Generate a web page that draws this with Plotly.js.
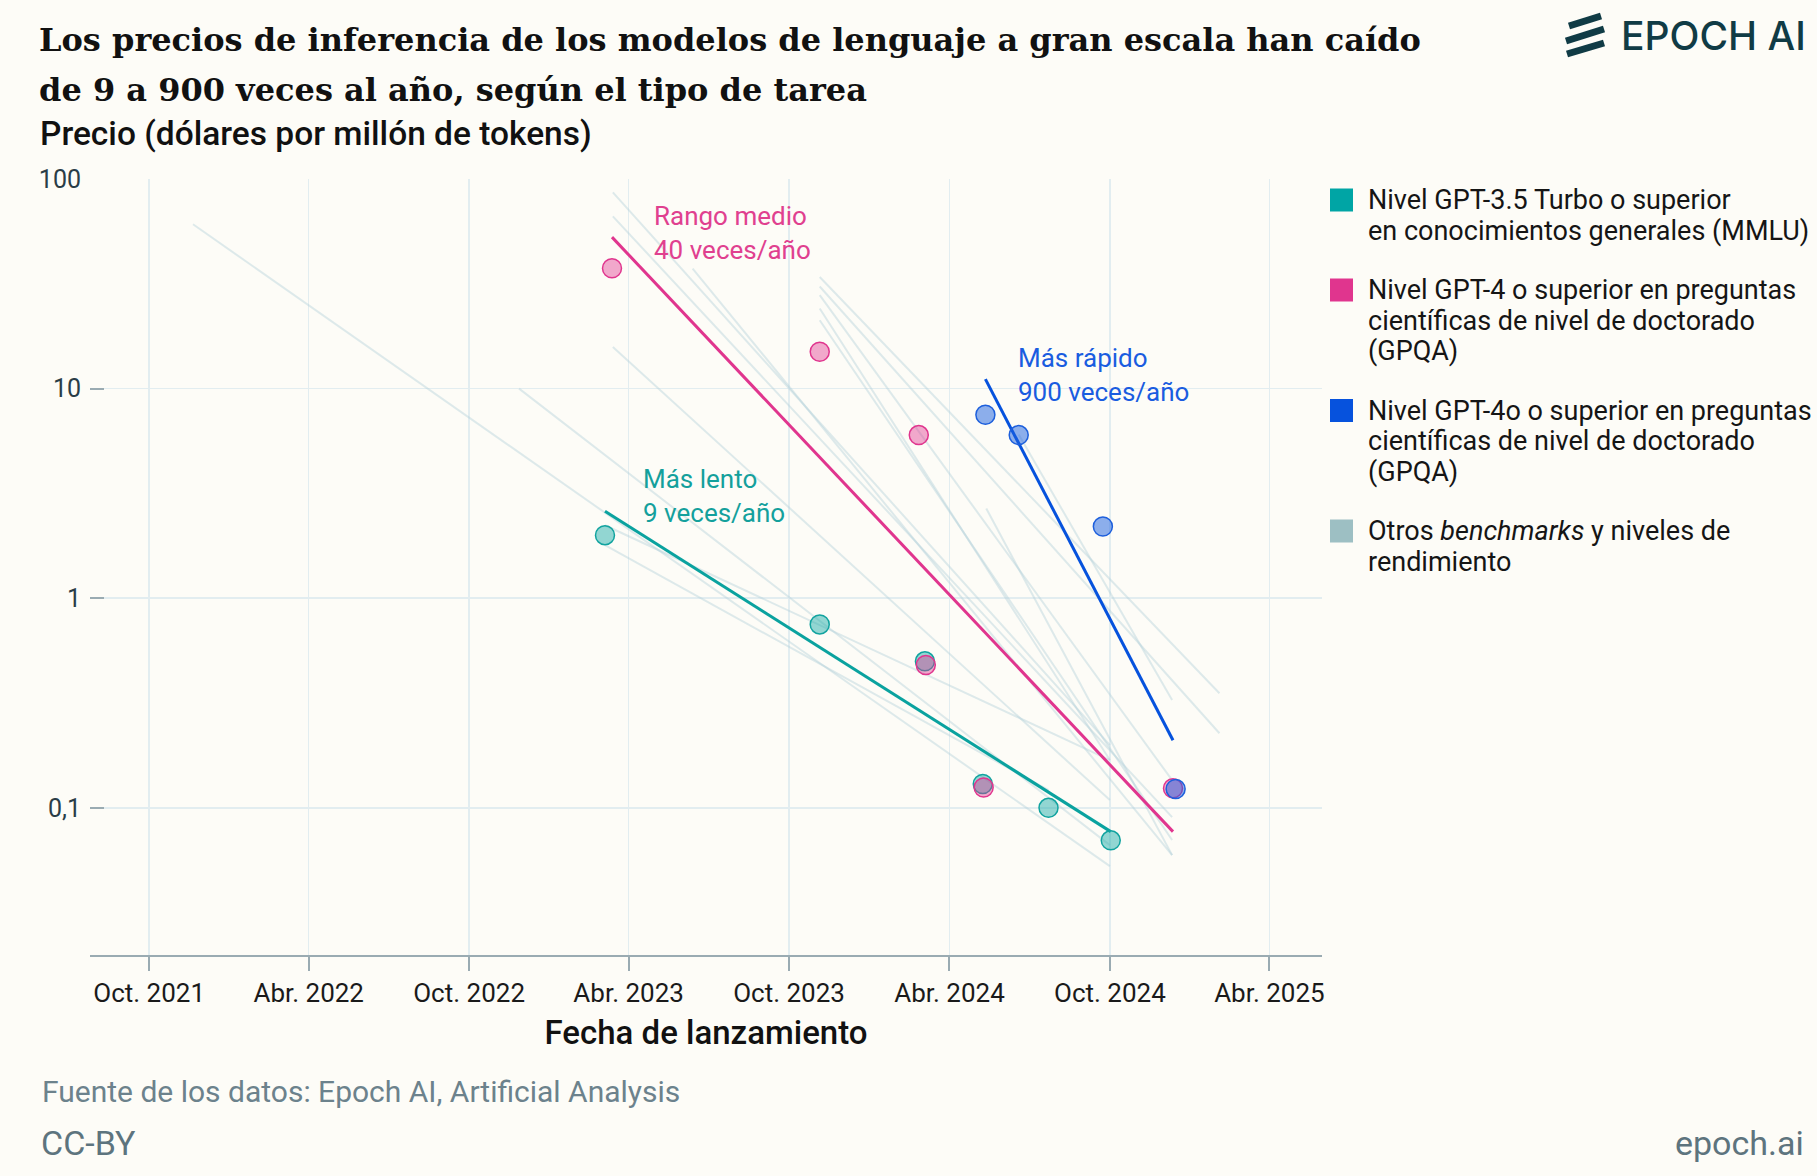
<!DOCTYPE html>
<html>
<head>
<meta charset="utf-8">
<script src="https://cdn.plot.ly/plotly-3.0.1.min.js"></script>
<style>
  html, body { margin: 0; padding: 0; background: #fdfcf7; }
  #chart { width: 1817px; height: 1176px; }
</style>
</head>
<body>
<div id="chart"></div>
<script>
// ---------- Data ----------
const mmluDates  = ['2023-03-05', '2023-11-05', '2024-03-04', '2024-05-09', '2024-07-23', '2024-10-02'];
const mmluPrices = [2.0, 0.75, 0.5, 0.13, 0.1, 0.07];

const gpt4Dates  = ['2023-03-13', '2023-11-05', '2024-02-26', '2024-03-05', '2024-05-10', '2024-12-12'];
const gpt4Prices = [37.5, 15, 6, 0.48, 0.125, 0.124];

const gpt4oDates  = ['2024-05-12', '2024-06-19', '2024-09-23', '2024-12-15'];
const gpt4oPrices = [7.5, 6, 2.2, 0.123];

const mmluTrendDates   = ['2023-03-05', '2024-10-02'];
const mmluTrendPrices  = [2.6, 0.077];
const gpt4TrendDates   = ['2023-03-13', '2024-12-12'];
const gpt4TrendPrices  = [52.8, 0.077];
const gpt4oTrendDates  = ['2024-05-12', '2024-12-12'];
const gpt4oTrendPrices = [11.1, 0.21];

// other benchmarks / thresholds (faint trend lines)
const otherStartDates  = ['2021-11-20','2022-11-27','2023-03-14','2023-03-14','2023-03-14','2023-06-13','2023-11-05','2023-11-05','2023-11-05','2023-11-05','2023-11-05','2024-05-13','2024-06-19','2023-03-05','2023-03-05'];
const otherStartPrices = [60.8, 10, 86.3, 66.3, 15.8, 37.4, 34.1, 30.7, 27.9, 24.1, 21.2, 2.68, 6.04, 2.23, 1.79];
const otherEndDates    = ['2024-10-01','2024-10-01','2024-10-01','2024-12-11','2024-10-01','2024-12-11','2025-02-03','2025-02-03','2024-12-11','2024-10-01','2024-12-11','2024-12-11','2024-12-11','2024-10-01','2024-07-23'];
const otherEndPrices   = [0.0527, 0.0664, 0.199, 0.0903, 0.109, 0.0595, 0.352, 0.227, 0.1355, 0.169, 0.0702, 0.0595, 0.327, 0.169, 0.1215];

const xTickVals = ['2021-10-01','2022-04-01','2022-10-01','2023-04-01','2023-10-01','2024-04-01','2024-10-01','2025-04-01'];
const xTickText = ['Oct. 2021','Abr. 2022','Oct. 2022','Abr. 2023','Oct. 2023','Abr. 2024','Oct. 2024','Abr. 2025'];
const yTickVals = [0.1, 1, 10, 100];
const yTickText = ['0,1', '1', '10', '100'];

const titleLines = ['Los precios de inferencia de los modelos de lenguaje a gran escala han caído',
                    'de 9 a 900 veces al año, según el tipo de tarea'];

const legendItems = [
  {color: '#00a5a5', lines: ['Nivel GPT-3.5 Turbo o superior', 'en conocimientos generales (MMLU)']},
  {color: '#e0358e', lines: ['Nivel GPT-4 o superior en preguntas', 'científicas de nivel de doctorado', '(GPQA)']},
  {color: '#0652dd', lines: ['Nivel GPT-4o o superior en preguntas', 'científicas de nivel de doctorado', '(GPQA)']},
  {color: '#9dbfc3', lines: ['Otros <i>benchmarks</i> y niveles de', 'rendimiento']}
];

// ---------- Styling ----------
const TEAL = '#0aa29f', PINK = '#e0358e', BLUE = '#0652dd';
const FONT = 'Roboto, "Noto Sans", sans-serif';

// pixel helpers for paper coordinates (plot area 90..1322 x 179..955)
const PL = 90, PR = 1322, PT = 179, PB = 955;
const px = x => (x - PL) / (PR - PL);
const py = y => (PB - y) / (PB - PT);

const traces = [];
for (let i = 0; i < otherStartDates.length; i++) {
  traces.push({
    x: [otherStartDates[i], otherEndDates[i]],
    y: [otherStartPrices[i], otherEndPrices[i]],
    mode: 'lines', type: 'scatter',
    line: {color: 'rgba(176,208,218,0.42)', width: 2},
    hoverinfo: 'skip'
  });
}
traces.push({x: mmluTrendDates, y: mmluTrendPrices, mode: 'lines', line: {color: TEAL, width: 3}});
traces.push({x: gpt4TrendDates, y: gpt4TrendPrices, mode: 'lines', line: {color: PINK, width: 3}});
traces.push({x: gpt4oTrendDates, y: gpt4oTrendPrices, mode: 'lines', line: {color: BLUE, width: 3}});

traces.push({x: mmluDates, y: mmluPrices, mode: 'markers',
  marker: {size: 19, color: 'rgba(16,168,164,0.45)', line: {color: '#11a39f', width: 1.5}}});
traces.push({x: gpt4Dates, y: gpt4Prices, mode: 'markers',
  marker: {size: 19, color: 'rgba(224,53,142,0.42)', line: {color: '#e0358e', width: 1.5}}});
traces.push({x: gpt4oDates, y: gpt4oPrices, mode: 'markers',
  marker: {size: 19, color: 'rgba(28,95,224,0.5)', line: {color: '#1d5fdc', width: 1.5}}});

const annotations = [
  {xref: 'paper', yref: 'paper', x: px(37), y: py(40), xanchor: 'left', yanchor: 'middle',
   text: titleLines[0], font: {family: '"DejaVu Serif", serif', size: 32, color: '#111111', weight: 700}, showarrow: false},
  {xref: 'paper', yref: 'paper', x: px(37), y: py(90), xanchor: 'left', yanchor: 'middle',
   text: titleLines[1], font: {family: '"DejaVu Serif", serif', size: 32, color: '#111111', weight: 700}, showarrow: false},
  {xref: 'paper', yref: 'paper', x: px(38), y: py(133), xanchor: 'left', yanchor: 'middle',
   text: 'Precio (dólares por millón de tokens)',
   font: {family: FONT, size: 33.5, color: '#111111', weight: 500}, showarrow: false},
  {xref: 'x', yref: 'y', x: '2023-04-28', y: 1.743, xanchor: 'left', yanchor: 'middle', align: 'left',
   text: 'Rango medio<br>40 veces/año', font: {family: FONT, size: 26, color: '#e0408f'}, showarrow: false},
  {xref: 'x', yref: 'y', x: '2023-04-15', y: 0.487, xanchor: 'left', yanchor: 'middle', align: 'left',
   text: 'Más lento<br>9 veces/año', font: {family: FONT, size: 26, color: '#14a09c'}, showarrow: false},
  {xref: 'x', yref: 'y', x: '2024-06-16', y: 1.063, xanchor: 'left', yanchor: 'middle', align: 'left',
   text: 'Más rápido<br>900 veces/año', font: {family: FONT, size: 26, color: '#1a5ce0'}, showarrow: false},
  {xref: 'paper', yref: 'paper', x: px(40), y: py(1091), xanchor: 'left', yanchor: 'middle',
   text: 'Fuente de los datos: Epoch AI, Artificial Analysis', font: {family: FONT, size: 30, color: '#6c828c'}, showarrow: false},
  {xref: 'paper', yref: 'paper', x: px(39), y: py(1143), xanchor: 'left', yanchor: 'middle',
   text: 'CC-BY', font: {family: FONT, size: 34, color: '#5d747e'}, showarrow: false},
  {xref: 'paper', yref: 'paper', x: px(1806), y: py(1143), xanchor: 'right', yanchor: 'middle',
   text: 'epoch.ai', font: {family: FONT, size: 34, color: '#5d747e'}, showarrow: false},
  {xref: 'paper', yref: 'paper', x: px(1808), y: py(35), xanchor: 'right', yanchor: 'middle',
   text: 'EPOCH AI', font: {family: 'Inter, Lato, sans-serif', size: 39, color: '#103b45', weight: 500}, showarrow: false}
];

const shapes = [
  // logo bars
  {type: 'line', xref: 'paper', yref: 'paper', x0: px(1569), y0: py(26), x1: px(1601), y1: py(16), line: {color: '#103b45', width: 7}},
  {type: 'line', xref: 'paper', yref: 'paper', x0: px(1566), y0: py(41), x1: px(1604), y1: py(29), line: {color: '#103b45', width: 7}},
  {type: 'line', xref: 'paper', yref: 'paper', x0: px(1567), y0: py(54), x1: px(1604), y1: py(43), line: {color: '#103b45', width: 7}}
];

// legend (manual)
const legendFirstLine = [200, 290, 410.5, 531];
const legendLineGap = 30.7;
legendItems.forEach((item, i) => {
  const c = legendFirstLine[i];
  shapes.push({type: 'rect', xref: 'paper', yref: 'paper',
    x0: px(1330), x1: px(1353), y0: py(c - 11.5), y1: py(c + 11.5),
    fillcolor: item.color, line: {width: 0}});
  item.lines.forEach((ln, j) => {
    annotations.push({xref: 'paper', yref: 'paper', x: px(1366), y: py(c + j * legendLineGap),
      xanchor: 'left', yanchor: 'middle', text: ln, showarrow: false,
      font: {family: FONT, size: 27, color: '#151515'}});
  });
});

const layout = {
  width: 1817, height: 1176,
  paper_bgcolor: '#fdfcf7', plot_bgcolor: '#fdfcf7',
  margin: {l: PL, r: 1817 - PR, t: PT, b: 1176 - PB, pad: 0},
  showlegend: false,
  hovermode: false,
  xaxis: {
    type: 'date',
    range: ['2021-07-25 12:00', '2025-05-31'],
    tickmode: 'array', tickvals: xTickVals, ticktext: xTickText,
    showgrid: true, gridcolor: '#e2edf0', gridwidth: 1.5,
    showline: true, linecolor: '#9aabb2', linewidth: 2,
    ticks: 'outside', ticklen: 14, tickwidth: 2, tickcolor: '#9aabb2',
    tickfont: {family: FONT, size: 26, color: '#1a1a1a'},
    zeroline: false,
    title: {text: 'Fecha de lanzamiento', font: {family: FONT, size: 33, color: '#111111', weight: 500}, standoff: 14}
  },
  yaxis: {
    type: 'log',
    range: [-1.702, 2.0],
    tickmode: 'array', tickvals: yTickVals, ticktext: yTickText,
    showgrid: true, gridcolor: '#e2edf0', gridwidth: 1.5,
    showline: false, zeroline: false,
    ticks: 'inside', ticklen: 14, tickwidth: 2, tickcolor: '#9aabb2',
    tickfont: {family: FONT, size: 25, color: '#2a3d47'},
    ticklabelstandoff: 8
  },
  annotations: annotations,
  shapes: shapes
};

Plotly.newPlot('chart', traces, layout, {staticPlot: true, displayModeBar: false});
</script>
</body>
</html>
